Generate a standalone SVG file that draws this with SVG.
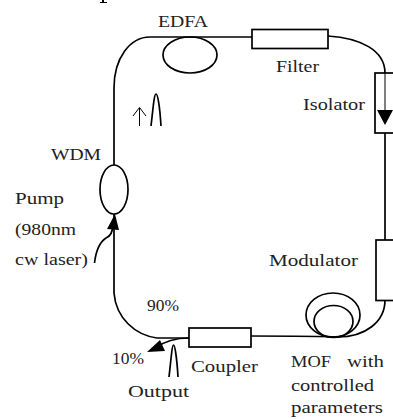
<svg xmlns="http://www.w3.org/2000/svg" width="393" height="419" viewBox="0 0 393 419">
<style>
text{font-family:"Liberation Serif",serif;font-size:17.5px;fill:#222}
.l{fill:none;stroke:#000;stroke-width:1.7}
.b{fill:#fff;stroke:#000;stroke-width:1.7}
.t{fill:none;stroke:#000;stroke-width:1}
</style>
<g id="connectors">
<path class="l" d="M114 165V88C114 58 130 37 150 37H252"/>
<path class="l" d="M328 36C360 38 385 50 385 73"/>
<path class="l" d="M385 133V240"/>
<path class="l" d="M385 300C385 322 365 337 338 337C320 336 300 336 250 336"/>
<path class="l" d="M114 214V293C116 318 135 335 157 338H189"/>
<path class="l" d="M189 338C175 338 165 341 155 348"/>
<path d="M147 352L160 340L165 351Z"/>
<path class="l" d="M94.500 263C96 250 100 242 106 238C111 236 112 232 113 226"/>
<path d="M115 214L119 230L107 229Z"/>
<path d="M102 0H104V2H107V3H100V2H102Z"/>
</g>
<g id="edfa"><ellipse class="l" cx="190" cy="55" rx="27" ry="18"/><text x="158" y="27" textLength="50" lengthAdjust="spacingAndGlyphs">EDFA</text></g>
<g id="filter"><rect class="b" x="252" y="29.500" width="76" height="19"/><text x="276" y="72" textLength="43" lengthAdjust="spacingAndGlyphs">Filter</text></g>
<g id="isolator"><rect class="b" x="375" y="73" width="20" height="60"/><path class="t" d="M385 73V110"/><path d="M377 110H393L385 125Z"/><text x="303" y="110" textLength="62" lengthAdjust="spacingAndGlyphs">Isolator</text></g>
<g id="modulator"><rect class="b" x="376" y="240" width="20" height="60.500"/><text x="269" y="266" textLength="89" lengthAdjust="spacingAndGlyphs">Modulator</text></g>
<g id="wdm"><ellipse class="l" cx="114" cy="189.500" rx="14" ry="24.500"/><text x="51" y="160" textLength="50" lengthAdjust="spacingAndGlyphs">WDM</text></g>
<g id="pump"><text x="15" y="204" textLength="49" lengthAdjust="spacingAndGlyphs">Pump</text><text x="15" y="235" textLength="61" lengthAdjust="spacingAndGlyphs">(980nm</text><text x="15" y="265" textLength="73" lengthAdjust="spacingAndGlyphs">cw laser)</text></g>
<g id="coupler"><rect class="b" x="189" y="328" width="62" height="19"/><text x="191" y="372" textLength="67" lengthAdjust="spacingAndGlyphs">Coupler</text></g>
<g id="mof"><ellipse class="l" cx="333" cy="315" rx="27" ry="22"/><ellipse class="l" cx="333.500" cy="321.500" rx="19.500" ry="16"/><text x="291" y="367" textLength="40" lengthAdjust="spacingAndGlyphs">MOF</text><text x="347" y="367" textLength="37" lengthAdjust="spacingAndGlyphs">with</text><text x="291" y="391" textLength="83" lengthAdjust="spacingAndGlyphs">controlled</text><text x="291" y="413" textLength="92" lengthAdjust="spacingAndGlyphs">parameters</text></g>
<g id="pulse-top"><path class="t" d="M139.500 126V108M133 116L139.500 107.500L146 116"/><path class="l" d="M151 126C153 110 154 94 156 94C158 94 160 110 161 126"/></g>
<g id="output"><path class="l" d="M169 377C171 360 172 345 173.500 345C175 345 177 360 178 377"/><text x="128" y="397" textLength="61" lengthAdjust="spacingAndGlyphs">Output</text></g>
<g id="labels"><text x="147" y="311" textLength="32" lengthAdjust="spacingAndGlyphs">90%</text><text x="112" y="364" textLength="32" lengthAdjust="spacingAndGlyphs">10%</text></g>
</svg>
